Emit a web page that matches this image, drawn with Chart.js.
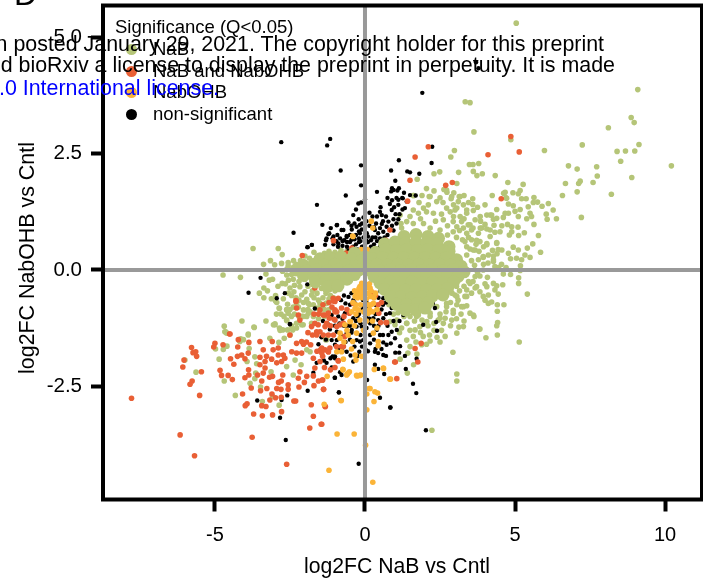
<!DOCTYPE html>
<html>
<head>
<meta charset="utf-8">
<script src="https://cdn.jsdelivr.net/npm/chart.js@4"></script>
<style>
html, body { margin: 0; padding: 0; background: #fff; }
#wrap { position: relative; width: 703px; height: 582px; overflow: hidden; font-family: "Liberation Sans", Arial, sans-serif; color: #000; }
#wrap canvas { position: absolute; left: 0; top: 0; }
.over { position: absolute; white-space: nowrap; font-size: 21.4px; line-height: 21px; }
.leg { position: absolute; white-space: nowrap; font-size: 18.5px; line-height: 22px; }
.dot { position: absolute; width: 11px; height: 11px; border-radius: 50%; }
</style>
</head>
<body>
<div id="wrap">
	<canvas id="chart" width="703" height="582"></canvas>
	<div class="leg" style="left:115px;top:16px">Significance (Q&lt;0.05)</div>
	<div id="legend"></div>
	<div class="over" style="right:99px;top:34px">n posted January 29, 2021. The copyright holder for this preprint</div>
	<div class="over" style="right:88px;top:55px">d bioRxiv a license to display the preprint in perpetuity. It is made</div>
	<div class="over" style="right:484px;top:78px;color:#0000ff">.0 International license.</div>
	<div style="position:absolute;left:14px;top:-22px;font-size:32px;line-height:32px">D</div>
</div>
<script>
var xTicks = [-5, 0, 5, 10];
var yTicks = [-2.5, 0, 2.5, 5];
var xRange = [-8.73, 11.23];
var yRange = [-4.94, 5.69];
var legendNames = ["NaB", "NaB and NabOHB", "NabOHB", "non-significant"];
var legendColors = ["#b5c578", "#e95f35", "#fbb438", "#000000"];

// [log2FC NaB, log2FC NabOHB]
var nabPoints = [[5.04,5.31],[3.34,3.62],[3.5,3.6],[9.09,3.88],[8.87,3.28],[8.97,3.17],[8.11,3.06],[3.63,2.97],[4.86,2.8],[7.24,2.69],[9.13,2.7],[2.98,2.57],[5.98,2.57],[8.4,2.55],[8.68,2.56],[8.99,2.56],[2.86,2.43],[8.52,2.34],[3.48,2.27],[3.6,2.27],[3.79,2.29],[6.78,2.24],[7.72,2.22],[10.21,2.24],[7.07,2.17],[3.61,2.12],[3.12,2.1],[2.49,2.11],[2.3,2.07],[3.73,2.03],[3.91,2.07],[4.34,2.03],[7.74,2.02],[8.89,1.99],[1.74,1.95],[4.76,1.88],[7.17,1.91],[7.12,1.86],[6.68,1.86],[7.6,1.88],[5.27,1.84],[3.06,1.86],[2.63,1.73],[2.73,1.67],[2.96,1.66],[4.67,1.67],[4.62,1.65],[4.93,1.66],[5.17,1.71],[5.11,1.64],[7.07,1.68],[8.21,1.63],[6.58,1.6],[2.14,1.58],[1.62,1.6],[3.14,1.58],[4.24,1.6],[5.63,1.56],[2.87,1.53],[3.59,1.53],[4.7,1.55],[5.22,1.53],[5.37,1.53],
[3.59,1.41],[5.61,1.45],[5.75,1.46],[5.9,1.37],[6.11,1.43],[6.27,1.29],[6.04,1.2],[6.07,1.09],[6.38,1.1],[7.21,1.13],[4.78,1.42],[4.94,1.38],[4.72,1.54],[4.39,1.3],[4.22,1.18],[4.06,1.18],[4.28,1.09],[4.67,1.22],[4.78,1.22],[4.61,1.13],[5,1.26],[5.17,1.3],[5.11,1.15],[5.44,1.36],[5.5,1.22],[5.55,1.15],[5.39,1.1],[5.63,.98],[4.75,.98],[4.89,.93],[5.1,.92],[4.56,.95],[4.3,.96],[5.31,.8],[4.81,.75],[4.89,.82],[5.12,.74],[5.78,.74],[5.59,.56],[4.5,.82],[4.33,.81],[4.06,.88],[3.89,.9],[4.17,.72],[4.39,.59],[4.78,.36],[4.94,.49],[5.11,.43],[5.41,.47],[5.85,.38],[5.5,.27],[4.85,.24],[5.05,.25],[5.22,.22],[5.33,.32],[4.56,.43],[4.44,.44],[4.28,.3],[4.11,.32],[3.94,.27],[4.28,.18],[5.18,.09],[5.17,-.01],[4.61,-.09],[5.12,-.17],[5.12,-.29],[4.39,-.34],[4.59,-.32],[4.33,-.43],[4.44,-.52],[5.41,-.52],[4.11,-.54],[4,-.65],[4.11,-.72],[4.22,-.69],[4.41,-.75],[4.63,-.75],[4.41,-.89],[4.42,-1.13],[4.39,-1.2],[4.41,-1.4],[4.03,-1.46],[3.83,-1.27],[5.14,-1.55],[3.06,-1.36],[3.28,-1.22],[3.13,-1.23],[3.63,-1],[3.5,-.93],[3.39,-.77],[3.22,-.79],[3.06,-.75],[3.33,-.57],[3.83,-.47],[3.67,-.39],[4,-.3],[3.5,-.29],[4.08,-.16],[3.67,-.14],[3.83,-.13],[4.33,.07],[3.94,0],
[3.28,1.4],[3,1.29],[3.39,1.22],[3.61,1.28],[3.17,1.15],[3.67,1.08],[3.44,.97],[3.78,.79],[3.55,.86],[3.28,.9],[3.06,.93],[3.55,.65],[3.33,.61],[3.83,.61],[4.06,.54],[3.67,.43],[3.39,.32],[3.78,.22],
[1.95,1.33],[2.11,1.4],[2.39,1.47],[2.72,1.33],[2.84,1.25],[3.06,1.33],[3.11,1.47],[3.39,1.29],[3.84,1.15],[4.17,1.18],[4.39,1.11],[2.72,1.72],[2.89,1.58],[3.17,1.58],[2.17,1.58],[1.61,1.6],[1.61,1.29],[1.78,1.22],[2.28,1.22],[2.61,1.08],[2.94,1.04],[3.22,1.04],[3.5,.97],[3.84,.9],[4.17,.86],[1.17,1.18],[1.39,1.04],[1.61,1],[1.95,1],[2.17,.9],[2.5,.86],[2.94,.82],[3.39,.79],[3.72,.64],[4.06,.57],[4.39,.57],[3.61,.43],[3.94,.29],[4.28,.22],[3.39,.5],[1.22,.9],
[2.39,-.79],[2.72,-.72],[3.06,-.57],[3.39,-.43],[3.72,-.36],[4.06,-.36],[3.94,-.57],[4.28,-.29],[3.28,-.79],[2.94,-.93],[2.5,-1.04],[2.17,-1],[1.72,-1],[1.39,-1.15],[1.06,-1.08],[2.61,-1.15],
[2.93,-1.77],[3.06,-2.24],[3.06,-2.39],[2.23,-3.45],[1.41,-2.22],[1.62,-2.04],[1.73,-1.81],[1.43,-1.79],[1.17,-1.92],[1.89,-1.61],[2.17,-1.53],[2.4,-1.45],[2.67,-1.43],[1.94,-1.43],[1.61,-1.43],[1.39,-1.51],[3.81,-1.27],[3.61,-.97],[2.94,-.87],[3.39,-.57],[3,-.54],[2.72,-.79],[2.89,-1.08],[2.67,-1.04],[2.44,-1.08],[2.17,-.93],[2.06,-1.11],[1.83,-1.22],[1.67,-1.29],[1.39,-1.15],[1.22,-1.25],[1,-1.18],[.83,-1.11],[1.78,-.97],[-1.31,-1.5],
[-3.73,.46],[-2.89,.46],[-2.76,.33],[-3.15,.2],[-3.38,.12],[-3.01,.11],[-2.78,.14],[-2.56,.16],[-2.38,.2],[-2.56,.09],[-4.73,-.11],[-4.15,-.16],[-3.3,-.09],[-3.19,-.22],[-3.08,-.2],[-2.76,-.29],[-2.39,-.2],[-2.61,-.11],[-3.37,-.39],[-3.25,-.45],[-3.52,-.5],[-3.37,-.6],[-3.12,-.62],[-2.98,-.55],[-2.94,-.7],[-2.85,-.83],[-2.58,-.74],[-2.61,-.85],[-2.56,-.93],[-2.37,-.47],[-2.5,-.39],[-2.17,-.36],[-2,-.47],[-1.94,-.63],[-2.11,-.54],[-2.39,-.8],[-2.22,-.8],[-1.78,-.54],[-1.72,-.75],[-2.05,-.86],[-1.94,-1],[-1.83,-.9],[-2.11,-1],[-4.1,-1.1],[-3.3,-1.1],[-2.61,-1.08],[-4.69,-1.21],[-4.64,-1.33],[-3.7,-1.23],[-3.89,-1.38],[-3,-1.18],[-2.85,-1.25],[-2.74,-1.29],[-2.5,-1.4],[-2.28,-1.25],[-2.11,-1.18],[-4.14,-1.48],
[-4.67,-1.33],[-4.61,-1.36],[-3.69,-1.24],[-3.05,-1.18],[-4.17,-1.54],[-4.05,-1.5],[-3.89,-1.4],[-4.98,-1.7],[-4.72,-1.71],[-4.6,-1.64],[-3.86,-1.69],[-4.86,-1.92],[-6,-1.94],[-5.63,-2.2],[-4.69,-2.39],[-4.32,-2.7],[-3.93,-1.97],[-3.67,-1.87],[-3.61,-2.02],[-3.64,-2.22],[-3.67,-2.34],[-3.83,-2.44],[-3.48,-2.52],[-3.13,-2.19],[-3.08,-2.72],[-3.42,-2.83],[-2.86,-2.91],[-2.61,-2.08],[-2.39,-2.26],[-2.13,-2.04],[-2.33,-1.94],[-3.17,-1.47],[-2.87,-1.56],[-2.69,-1.47],[-3,-1.16],[-2.83,-1.3],[-2.58,-1.29],[-2.41,-1.29],[-2.61,-1.09],[-2.28,-1.15],[-2.06,-1.18],[-2.06,-1],[-1.89,-.93],[-1.72,-1],[-1.5,-.93],[-1.78,-1.15],[-1.94,-1.72],[-1.83,-1.76],[-1.28,-1.5],[-2.61,-.86],[-2.86,-.82],[-2.28,-.72],[-1.89,-.72],[-2.98,-.67],[-1.5,-.72],[-1.28,-.72],
[-2.2,-.25],[-2,-.2],[-1.9,-.35],[-1.75,-.45],[-1.6,-.5],[-1.45,-.4],[-1.55,-.65],[-1.4,-.6],[-1.3,-.5],[-1.2,-.62],[-1.7,-.6],[-1.85,-.75],[-1.6,-.82],[-1.45,-.78],[-1.3,-.72],[-2.3,-.6],[-2.45,-.55],[-2.2,-.65],[-2.05,-.7],[-1.9,-.85],[-2.35,-.95],[-2.2,-1],[-2.5,-.85],[-2.45,-1],[-2.7,-1],[-2.8,-.95],[-1.35,-.85],[-1.15,-.55],[-1,-.45],[-.85,-.42],
[1.1,-.92],[1.3,-1],[1.5,-1],[1.65,-1.1],[1.9,-1.08],[2.1,-1.2],[2.3,-1.15],[2.5,-.95],[2.7,-.9],[2.85,-.7],[3.1,-.65],[2.9,-.5],[3.15,-.45],[3.05,-.35],[3.3,-.35],[3.45,-.25],[3.6,-.25],[3.55,-.5],[3.2,-.95],[3.05,-1.05],[2.85,-1.2],[2.3,-1.3],[2.55,-1.3],[3.3,-1.1],[.95,-.95],[.8,-.75],[1.15,-1.35],[1.5,-1.3],[1.85,-1.35],[2.15,-1.4],[2.05,-1.6],[2.5,-1.55],[1.7,-1.55],[1.5,-1.65],
[1.2,1],[1.5,1.15],[1.85,1.1],[2.05,1.25],[2.35,1.05],[2.55,1.2],[2.75,.95],[2.95,1.15],[3.15,.85],[3.3,1.1],[3.45,.7],[3.6,.9],[3.7,.55],[3.25,.65],[3.05,.7],[2.75,.75],[3.5,.45],[3.55,.2],[3.65,.1],[3.8,.4],[3.95,.5],[4.1,.15],[3.75,-.05],[3.95,.12],[2.3,1.7],[2.5,1.55],[2.6,1.45],[2.95,1.4],[3.3,1.6],[3.45,1.45],[3.75,1.35],[4,1.4],[1.9,1.6],[2.05,1.75],[1.8,1.45],[3.85,1.05],[4,.98],[4.25,.42],[4.4,.35],[4.55,.12],[4.7,.05],[4.45,.05],[4.85,-.1],
[-2.3,.12],[-2.15,.2],[-2,.3],[-1.85,.25],[-1.7,.38],[-1.55,.3],[-1.35,.36],[-1.2,.4],[-1,.38],[-.8,.42],[-.6,.4],[-2.6,.02],[-2.45,-.1],[-2.75,-.03],
[-2.9,-.35],[-2.65,-.3],[-2.55,-.22],[-2.35,-.33],[-2.72,-.62],[-2.55,-.5],[-1.2,-.85],[-1.05,-.6],[-1.55,-1.05],[-1.35,-1],[-2.45,-1.2],[-2.95,-.95]];

// where the green points overlap into one solid mass: drawn with a wider radius
var nabMassPoints = [[1.3,.72],[1.7,.76],[2.1,.72],[2.45,.68],[.65,.56],[1,.6],[1.35,.58],[1.7,.6],[2.05,.58],[2.4,.56],[2.8,.5],[-.35,.36],[0,.28],[.35,.38],[.7,.44],[1.05,.42],[1.4,.44],[1.75,.42],[2.1,.44],[2.45,.42],[2.8,.4],[-1.5,.24],[-1.15,.26],[-.8,.28],[-.45,.24],[-.1,.2],[.25,.24],[.6,.26],[.95,.25],[1.3,.26],[1.65,.25],[2,.26],[2.35,.25],[2.7,.26],[3.05,.22],[-2.05,.1],[-1.7,.12],[-1.35,.1],[-1,.12],[-.65,.1],[-.3,.08],[.05,.1],[.4,.12],[.75,.1],[1.1,.12],[1.45,.1],[1.8,.12],[2.15,.1],[2.5,.12],[2.85,.1],[3.2,.08],[-2.3,0],[-1.95,-.02],[-1.6,0],[-1.25,-.02],[-.9,0],[-.55,-.02],[-.2,0],[.15,0],[.5,-.02],[.85,0],[1.2,-.02],[1.55,0],[1.9,-.02],[2.25,0],[2.6,-.02],[2.95,0],[3.3,-.04],[-2.05,-.12],[-1.7,-.14],[-1.35,-.12],[-1,-.14],[-.65,-.12],[-.35,-.1],[.3,-.14],[.65,-.12],[1,-.14],[1.35,-.12],[1.7,-.14],[2.05,-.12],[2.4,-.14],[2.75,-.12],[3.1,-.14],[-1.65,-.26],[-1.3,-.24],[-.95,-.22],[-.6,-.2],[.5,-.28],[.85,-.26],[1.2,-.28],[1.55,-.26],[1.9,-.28],[2.25,-.26],[2.6,-.28],[2.95,-.26],[.65,-.42],[1,-.42],[1.35,-.44],[1.7,-.42],[2.05,-.44],[2.4,-.42],[2.75,-.4],[.85,-.58],[1.2,-.58],[1.55,-.6],[1.9,-.58],[2.25,-.56],[2.6,-.54],[1.05,-.74],[1.4,-.74],[1.75,-.72],[2.1,-.7],[1.35,-.86],[1.7,-.86],[2,-.82],[-1.25,-.36],[-.9,-.34]];

var bothPoints = [[4.86,2.87],[2.11,2.65],[4.1,2.48],[5.14,2.54],[1.67,2.43],[1.5,1.93],[2.69,1.82],[2.91,1.88],[4.54,1.53],[1.42,1.48],[-2.09,.31],[-.44,.47],[.7,.64],[.65,.61],[-.63,.36],[-1.05,.3],[-.22,.32],[1.91,.34],[2.22,.61],[2.52,.73],[.83,.86],[-1.05,.63],[-.61,.36],
[1.87,-1.58],[1.67,-1.69],[1.76,-1.98],[1.01,-1.98],[1.06,-2.34],[.72,-1.13],[.52,-1.13],[.46,-.93],[-1.42,-2.37],[-1.38,-2.57],[-1.33,-2.94],[-1.44,-3.32],[-.89,-1.96],[-1.22,-1.76],[-1.33,-1.72],[-1.44,-1.68],[-1.41,-1.86],[-.67,-1.43],[-.78,-1.65],[-1.03,-1.06],[-.94,-.9],[-1.06,-.61],[-1,-.68],[-1.33,-.97],[-1.19,-1.04],[-.72,-1.15],[-.52,-.93],[-.78,-.82],[-1.39,-1.4],[-1.22,-1.4],[-.94,-1.22],[.26,-.5],[.44,-.75],
[-7.78,-2.76],[-6.16,-3.55],[-5.68,-4],[-3.76,-3.6],[-2.61,-4.18],[-1.84,-3.4],[-1.46,-3.32],[-1.72,-3.15],[-1.79,-2.9],[-1.32,-2.94],[-5.51,-2.7],[-5.78,-1.67],[-5.64,-1.76],[-5.73,-1.78],[-5.61,-1.86],[-6.03,-1.94],[-6.07,-2.09],[-5.45,-2.19],[-5.76,-2.39],[-5.83,-2.46],[-5,-1.58],[-5.04,-1.66],[-4.73,-1.61],[-4.51,-1.38],[-4.48,-1.91],[-4.37,-2.03],[-4.24,-1.66],[-4.25,-1.86],[-4.11,-1.83],[-4,-1.91],[-3.89,-1.79],[-3.87,-1.56],[-4.83,-2.16],[-4.78,-2.27],[-4.56,-2.27],[-4.42,-2.36],[-4.08,-2.67],[-3.93,-2.88],[-3.99,-2.92],[-3.71,-3.1],[-3.42,-3.14],[-3.08,-3.12],[-2.78,-3.05],[-3.3,-2.94],[-3.44,-2.92],[-3.17,-2.8],[-2.37,-2.82],[-2.31,-2.82],[-2.79,-2.74],[-2.98,-2.75],[-3.1,-2.67],[-3.48,-2.6],[-3.27,-2.55],[-3.79,-2.54],[-4,-2.32],[-3.87,-2.26],[-3.58,-2.26],[-3.44,-2.39],[-3.18,-2.31],[-3.08,-2.29],[-2.88,-2.42],[-2.79,-2.39],[-2.94,-2.55],[-2.8,-2.57],[-2.56,-2.47],[-2.56,-2.57],[-2.2,-2.52],[-2.02,-2.42],[-1.7,-2.49],[-1.55,-2.39],[-1.41,-2.37],[-1.38,-2.57],[-1.94,-2.29],[-1.72,-2.28],[-1.67,-2.11],[-2.17,-2.19],[-2.22,-2.33],[-2.74,-2.26],[-3.39,-2.22],[-3.33,-2.11],[-3.5,-2.04],[-3.33,-1.97],[-3.5,-1.88],[-3.28,-1.86],[-3.11,-1.92],[-2.94,-2],[-2.78,-1.97],[-2.72,-1.83],[-2.89,-1.83],[-3.06,-1.72],[-3.39,-1.72],[-3.5,-1.54],[-3.09,-1.54],[-2.89,-1.68],[-2.67,-1.9],[-2.44,-1.76],[-2.28,-1.79],[-2.11,-1.79],[-2.28,-1.58],[-2.11,-1.54],[-1.81,-1.61],[-1.48,-1.72],[-1.22,-1.76],[-1.44,-1.79],[-1.17,-1.68],[-1.72,-1.9],[-1.5,-1.97],[-.89,-1.95],[-1.61,-1.33],[-1.61,-1.4],[-1.56,-1.18],[-1.28,-1.15],[-1,-1.08],[-1,-.86],[-.83,-1.18],[-.72,-1.65],[-1.22,-.93],[-2.28,-.82],[-2.22,-.97],[-1.5,-.86],[-2.5,-1.4],[-3.88,-2.15],[.99,-1.98],[.7,-1.13],[-2.3,-.68],[-1.05,-.67],[-.39,-.72],[-4.22,-1.5],
[-2.3,-.66],[-.89,-.61],[-1.67,-.39],[-1.78,-1.22],[-1.67,-1.15],[-1.39,-.97],[-1,-.9],[-1.5,-1.33],[-1.33,-1.22],[-4.5,-1.38],[-2.17,-1.08],
[-1.1,-.8],[-1.2,-.7],[-1.4,-.75],[-1.55,-.95],[-1.7,-.95],[-1.75,-1.4],[-1.9,-1.35],[-1.95,-1.55],[-2.05,-1.6],[-1.6,-1.75],[-1.35,-2.1],[-1.15,-2.15],[-1,-2.1],[-.95,-1.65],[-.7,-1],[-.6,-.85],[.55,-.7],[.35,-.55],[-1.05,-1.4],[-1.15,-1.2]];

var nabohbPoints = [[.21,1.05],[.26,.9],[-.4,.72],[.08,.44],[-.05,.43],[-.13,.44],[0,.32],[.11,.36],[.17,.25],[0,.22],
[-.17,-.36],[-.19,-.5],[-.11,-.29],[-.33,-.57],[-.22,-.86],[-.17,-1.08],[-.48,-1.11],[-.67,-1.18],[.17,-.39],[.19,-.57],[.28,-.72],[.11,-.93],[-.28,-1.36],[-.56,-1.4],[-.83,-1.47],[-.41,-1.54],[.28,-1.36],[.44,-1.54],[.44,-1.63],[-.72,-1.92],[-.3,-1.94],[-.33,-1.83],[-.11,-1.86],[-.74,-2.14],[-.52,-2.19],[-.59,-2.24],[-1.26,-2.29],[-.26,-2.28],[-.14,-2.26],[.31,-2.14],[.61,-2.11],[.83,-2.35],[.17,-2.55],[.33,-2.62],[.42,-2.65],[.06,-2.67],[.3,-2.83],[-.8,-2.81],[-1.36,-2.89],[.06,-3.01],[-.93,-3.53],[-.36,-3.53],[.02,-3.77],[-.83,-1.36],[-.94,-1.76],[-.78,-1.76],
[-1.2,-4.31],[.26,-4.57],[-.79,-2.81],[-.73,-2.15],[-.56,-2.22],[-.61,-2.26],[-.28,-2.27],[-.17,-2.27],[.62,-2.12],[.85,-2.35],[.14,-2.55],
[-.41,.73],[-.28,-.47],[-.33,-.83],[-.5,-1.11],[-.1,-.45],[-.25,-.6],[-.15,-.75],[-.3,-.95],[.1,-.5],[.2,-.75],[.15,-.3],[.25,-.9],[-.05,-.35],[.05,-.62],[-.4,-.7],[.3,-.6],[.15,-.85],[-.1,-.6],
[-.2,-.4],[-.35,-.45],[-.45,-.9],[-.35,-1.2],[-.05,-1.3],[.05,-1.1],[.25,-1.1],[.4,-1.25],[.35,-.5],[.4,-.85],[.1,-.75],[-.05,-.9],[.1,-.38],[.2,-.45],[-.15,-.52],[-.3,-.75],[-.6,-1.3],[-.7,-1.55],[-.45,-1.7]];

var nonsigPoints = [[1.91,3.81],[3.7,4.47],[3.78,4.34],[2.24,2.65],[-.13,2.25],[1.13,2.36],[2.22,2.3],[.87,2.14],[1.41,2.12],[1.5,2.1],[1.81,2.07],[-.13,1.82],[1.01,1.92],[.9,1.76],[.87,1.69],[1.13,1.76],[1.08,1.71],[.4,1.68],[1.3,1.66],[1.5,1.61],[1.69,1.6],[1.24,1.55],[1.11,1.51],
[-2.79,2.75],[-1.16,2.82],[-1.26,2.68],[-.81,2.14],[-1.6,1.4],[-.64,1.6],[-2.38,.8],[-.22,1.43],[-.13,1.45],[-.3,1.3],[.15,1.23],[0,1.52],[.52,1.35],[.5,1.25],[.56,1.18],[.89,1.29],[.97,1.35],[1.11,1.4],[.83,1.42],[1.26,1.54],[1.39,1.47],[1.33,1.33],[1.02,1.2],[.95,1.09],[1.11,1.09],[.78,1.04],[.56,.99],[.37,1],[-.05,1.13],[-.39,1.18],[-.55,1.02],[-.21,1.09],[-.17,.97],[-.28,.93],[-.44,.87],[-.11,.87],[-1.42,.97],[-1.14,.9],[-.93,.97],[-.78,.86],[-.92,.75],[-1.22,.77],[-1.3,.64],[-1.08,.68],[-.83,.68],[-.61,.73],[-.3,.75],[-.17,.79],[-.69,.64],[-.89,.57],[-1.33,.54],[-1.77,.54],[-1.91,.49],[.83,.86],[.72,.93],[.06,.79],[.44,.79],[.61,.82],[.33,.86],[.95,1.72],
[-1.05,.55],[-.9,.5],[-.75,.52],[-.6,.5],[-.5,.6],[-.4,.5],[-.3,.55],[-.2,.6],[-.1,.5],[0,.55],[.1,.6],[.2,.5],[.3,.55],[.4,.62],[.5,.5],[.6,.55],[.25,.7],[.1,.72],[-.05,.7],[.35,.7],[-.2,.68],[-.35,.66],[.15,.42],[.3,.42],[.45,.42],[-.25,.44],[-.4,.42],[-.55,.42],
[-.95,.62],[-.75,.62],[-.6,.6],[-.45,.65],[-.15,.62],[.05,.63],[.2,.64],[.5,.68],[.65,.7],[.75,.62],[-.5,.75],[-.2,.83],[0,.9],[.15,.95],[.3,.92],[.5,.9],[.75,.75],[.9,.95],[.95,.85],[.6,1.05],[.7,1.15],[.4,1.15],[.25,1.15],[.05,1.05],[-.1,1],[-.35,1],[-.45,.95],[1.05,1],[1.15,1.2],[1.25,1.3],[.9,1.5],[.75,1.55],[1.05,1.55],
[2.4,-1.31],[2.37,-1.12],[2.33,-.82],[2.26,-.72],[1.94,-1.18],[1.72,-1.91],[1.36,-2.13],[1.6,-2.45],[1.71,-2.65],[.84,-2.96],[2.03,-3.45],[.5,-2.75],[.64,-2.24],[.44,-2.13],[.33,-2.04],[.07,-2.37],[-.87,-2.64],[-1.01,-2.32],[-1.1,-2.11],[-.78,-2.26],[-.83,-2.2],[-.39,-1.97],[-.48,-1.84],[-.19,-1.76],[-.61,-1.76],[-1,-1.9],[-1.08,-1.86],[1.33,-1.85],[1.14,-1.78],[1.01,-1.78],[.7,-1.85],[.61,-1.83],[.44,-1.79],[.33,-1.76],[.03,-1.72],[.86,-1.58],[.72,-1.61],[.61,-1.56],[.17,-1.58],[-.06,-1.51],[-.17,-1.54],[-.28,-1.51],[-.44,-1.29],[-.61,-1.36],[-.94,-1.51],[-1.11,-1.51],[-1,-1.61],[-1.17,-1.28],[-.94,-1.33],[-.28,-1.22],[-.11,-1.22],[.17,-1.15],[.17,-1.4],[.39,-1.29],[.5,-1.4],[.78,-1.4],[.89,-1.33],[1.06,-1.29],[1,-1.47],[1.17,-1.64],[.83,-.93],[.89,-.82],[.61,-.61],[.94,-.54],[1.22,-.75],[1.28,-.97],[-.39,-.65],[-.5,-.75],[-.33,-.72],[-.56,-.9],[-.39,-1.04],[-.06,-.65],[-.03,-.79],[.06,-1.04],[.28,-1.04],[.33,-.54],[.61,-1.04],[.44,-1.08],[-.67,-.93],[-1.11,-.97],[-.89,-1],
[-.8,-.65],[-.7,-.55],[-.65,-.72],[-.55,-.58],[-.45,-.5],[.35,-.75],[.45,-.6],[.5,-.45],[.6,-.75],[.7,-.95],[.45,-1.2],[.3,-1.2],[.15,-1.05],[0,-1],[-.15,-1.15],[-.3,-1.1],[-.5,-1.2],[-.7,-1.2],[-.85,-1.15],[-1,-1.2],[-.8,-1.4],[-.65,-1.55],[-.5,-1.5],[-.35,-1.65],[-.15,-1.4],[0,-1.4],[.3,-1.5],[.6,-1.4],[.75,-1.2],[.95,-1.1],[1.15,-1.1],[.1,-.8],[.05,-.7],[-.1,-.85],[-.25,-1],[.35,-1.7],[.55,-1.7],[-.75,-1.75],[-.9,-1.7],[-.25,-1.85],[-.1,-1.65],[.1,-1.75],[-1.25,-1.15],[-1.4,-1.1],[-1.55,-1.6],[-1.3,-1.5],[-1.45,-1.45],[-1.15,-1.9],
[-2.5,-1.17],[-3.59,-2.81],[-2.78,-2.8],[-2.59,-2.7],[-2.83,-3.18],[-2.64,-3.66],[-.21,-4.17],[-1.91,-2.6],[-.87,-2.63],[.85,-2.96],[-1,-2.32],[-1.11,-2.1],[-1.72,-2.21],[-1.61,-2],[-1.37,-1.95],[-1.28,-2],[-1,-1.86],
[-3.48,-.17],[-3.88,-.49],[-2.67,-.5],[-2.94,-.61],[-1.67,-.83],[-1.92,-.31],[-2.5,-1.16],[-1.92,.49],[-1.77,.54],[-1.19,.79],[-.94,.96],[-1.28,.68],[-1.05,.72],[-.72,.86],[-.61,.71],[-.75,-1.05],[-.6,-1.2],[-.45,-1.35],[-.2,-.95],[.05,-1.25],[.35,-.95],[.55,-.85],[.7,-.7]];

function toXY(list) {
	return list.map(function(p) { return { x: p[0], y: p[1] }; });
}

function pointSet(list, color, radius, order) {
	return { data: toXY(list), backgroundColor: color, borderWidth: 0, pointRadius: radius, pointHoverRadius: radius, order: order };
}

// black frame and axis titles go over everything
var framePlugin = {
	id: "frame",
	afterDraw: function(chart) {
		var ctx = chart.ctx, a = chart.chartArea;
		ctx.save();
		ctx.strokeStyle = "#000";
		ctx.lineWidth = 4;
		ctx.strokeRect(a.left, a.top, a.right - a.left, a.bottom - a.top);
		ctx.fillStyle = "#000";
		ctx.textAlign = "center";
		ctx.textBaseline = "middle";
		ctx.font = '21.2px "Liberation Sans"';
		ctx.fillText("log2FC NaB vs Cntl", 397, 567);
		ctx.translate(28, 258);
		ctx.rotate(-Math.PI / 2);
		ctx.font = '21.4px "Liberation Sans"';
		ctx.fillText("log2FC NabOHB vs Cntl", 0, 0);
		ctx.restore();
	}
};

function noPadding(s) {
	s.paddingLeft = s.paddingRight = s.paddingTop = s.paddingBottom = 0;
}

var zeroLineX = [{ x: 0, y: yRange[0] }, { x: 0, y: yRange[1] }];
var zeroLineY = [{ x: xRange[0], y: 0 }, { x: xRange[1], y: 0 }];

new Chart(document.getElementById("chart").getContext("2d"), {
	type: "scatter",
	data: {
		datasets: [
			pointSet(nabPoints, legendColors[0], 2.8, 6),
			pointSet(bothPoints, legendColors[1], 2.8, 4),
			pointSet(nabohbPoints, legendColors[2], 2.8, 3),
			pointSet(nonsigPoints, legendColors[3], 2.2, 5),
			pointSet(nabMassPoints, legendColors[0], 6.5, 2),
			{ data: zeroLineX, showLine: true, borderColor: "#999999", borderWidth: 4, pointRadius: 0, order: 1 },
			{ data: zeroLineY, showLine: true, borderColor: "#999999", borderWidth: 4, pointRadius: 0, order: 1 }
		]
	},
	options: {
		responsive: false,
		animation: false,
		layout: { autoPadding: false, padding: { top: 5.5, right: 1, left: 0, bottom: 0 } },
		plugins: { legend: { display: false }, tooltip: { enabled: false } },
		scales: {
			x: {
				type: "linear",
				min: xRange[0],
				max: xRange[1],
				afterBuildTicks: function(s) { s.ticks = xTicks.map(function(v) { return { value: v }; }); },
				afterFit: function(s) { s.height = 82.5; noPadding(s); },
				grid: { drawOnChartArea: false, tickLength: 12, tickWidth: 4, tickColor: "#000" },
				border: { display: false },
				ticks: { color: "#000", padding: 12, maxRotation: 0, font: { family: "Liberation Sans", size: 20 } }
			},
			y: {
				type: "linear",
				min: yRange[0],
				max: yRange[1],
				afterBuildTicks: function(s) { s.ticks = yTicks.map(function(v) { return { value: v }; }); },
				afterFit: function(s) { s.width = 103; noPadding(s); },
				grid: { drawOnChartArea: false, tickLength: 12, tickWidth: 4, tickColor: "#000" },
				border: { display: false },
				ticks: { color: "#000", padding: 9, font: { family: "Liberation Sans", size: 20.5 }, callback: function(v) { return v.toFixed(1); } }
			}
		}
	},
	plugins: [framePlugin]
});

// legend sits inside the plot, rows are built from the names above
var rowY = [38, 60, 81, 103];
var html = "";
legendNames.forEach(function(name, i) {
	html += '<div class="dot" style="left:125.5px;top:' + (rowY[i] + 5.5) + 'px;background:' + legendColors[i] + '"></div>';
	html += '<div class="leg" style="left:153px;top:' + rowY[i] + 'px">' + name + '</div>';
});
document.getElementById("legend").innerHTML = html;
</script>
</body>
</html>
